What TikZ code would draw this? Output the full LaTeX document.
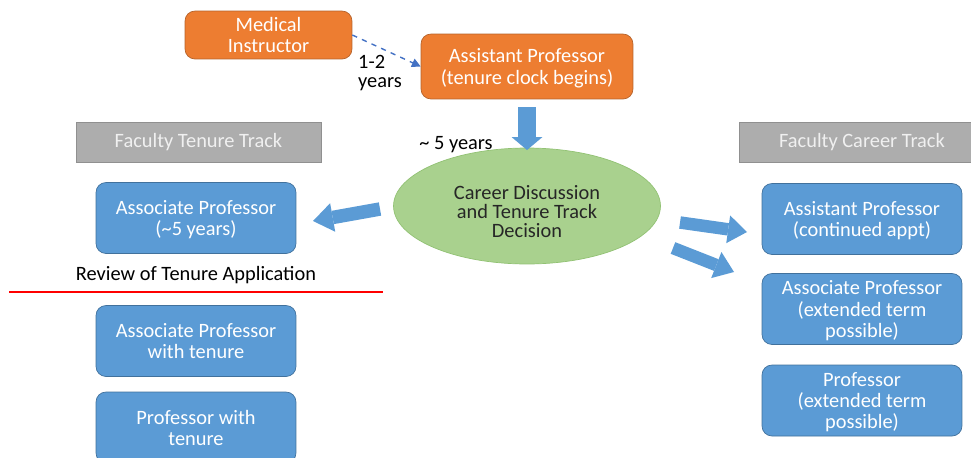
\documentclass[tikz,border=0pt]{standalone}
\usepackage{fontspec}
\setmainfont{Carlito}
\usetikzlibrary{arrows.meta, shapes.geometric}

\definecolor{rankblue}{HTML}{5B9BD5}
\definecolor{rankblueline}{HTML}{41719C}
\definecolor{startorange}{HTML}{ED7D31}
\definecolor{startorangeline}{HTML}{B5622A}
\definecolor{talkgreen}{HTML}{A9D18E}
\definecolor{talkgreenline}{HTML}{92C274}
\definecolor{trackgrey}{HTML}{ADADAD}
\definecolor{trackgreyline}{HTML}{909090}
\definecolor{dashblue}{HTML}{4472C4}

\begin{document}
\begin{tikzpicture}[x=0.02cm, y=-0.02cm,
  every node/.style={font=\fontsize{11.6}{12}\selectfont, align=center, inner sep=1pt},
  rank/.style={draw=rankblueline, fill=rankblue, text=white, rounded corners=0.2cm,
    minimum width=4cm, minimum height=1.42cm, text depth=-2pt},
  start/.style={draw=startorangeline, fill=startorange, text=white, rounded corners=0.2cm,
    text depth=-1pt},
  track/.style={draw=trackgreyline, fill=trackgrey, text=white!94!black,
    minimum width=4.9cm, minimum height=0.8cm},
  talk/.style={ellipse, draw=talkgreenline, fill=talkgreen, text=black!85,
    font=\fontsize{11.6}{10.8}\selectfont, text height=35.5pt,
    minimum width=5.34cm, minimum height=2.32cm},
  fatarrow/.style n args={3}{draw=rankblue, line width=#1,
    -{Triangle[length=#3, width=#2, line width=0pt]}}
]
  \path[use as bounding box] (0,0) rectangle (971,457);
  \clip (0,0) rectangle (971,457);

  \node[start, minimum width=3.34cm, minimum height=0.96cm] (instr) at (268.5,35) {Medical\\Instructor};
  \node[start, minimum width=4.24cm, minimum height=1.3cm] (asst) at (527,66.5) {Assistant Professor\\(tenure clock begins)};
  \node[align=left, font=\fontsize{11.6}{10.5}\selectfont] (years) at (380,73) {1-2\\years};
  \draw[dashblue, dashed, thick, -{Triangle[length=5pt, width=5pt]}] (instr.east) -- (asst.west);

  \node (five) at (456,145) {\textasciitilde{} 5 years};
  \node[talk] (talk) at (527,206) {Career Discussion\\and Tenure Track\\Decision};

  \node[track] (tenure) at (198.5,142) {Faculty Tenure Track};
  \node[track] (career) at (862,142.5) {Faculty Career Track};

  % tenure track
  \node[rank] (assoc) at (196,218) {Associate Professor\\(\textasciitilde5 years)};
  \node (review) at (196,275) {Review of Tenure Application};
  \node[rank] (assoctenure) at (196,341) {Associate Professor\\with tenure};
  \node[rank] (fulltenure) at (196,427.5) {Professor with\\tenure};

  % career track
  \node[rank] (asstcont) at (862,219) {Assistant Professor\\(continued appt)};
  \node[rank] (assocext) at (862,309) {Associate Professor\\(extended term\\possible)};
  \node[rank] (fullext) at (862,400.5) {Professor\\(extended term\\possible)};

  \coordinate (redL) at (9,292);
  \coordinate (redR) at (383,292);
  \draw[red, line width=1.7pt] (redL) -- (redR);

  \coordinate (downA) at (527,107);
  \coordinate (downB) at (527,150);
  \coordinate (leftA) at (380,209);
  \coordinate (leftB) at (313,221);
  \coordinate (rightA) at (680,222.5);
  \coordinate (rightB) at (747,232);
  \coordinate (lowA) at (673,248);
  \coordinate (lowB) at (734,272);
  \draw[fatarrow={0.36cm}{0.62cm}{0.26cm}] (downA) -- (downB);
  \draw[fatarrow={0.27cm}{0.58cm}{0.4cm}] (leftA) -- (leftB);
  \draw[fatarrow={0.25cm}{0.56cm}{0.38cm}] (rightA) -- (rightB);
  \draw[fatarrow={0.25cm}{0.56cm}{0.38cm}] (lowA) -- (lowB);
\end{tikzpicture}
\end{document}
